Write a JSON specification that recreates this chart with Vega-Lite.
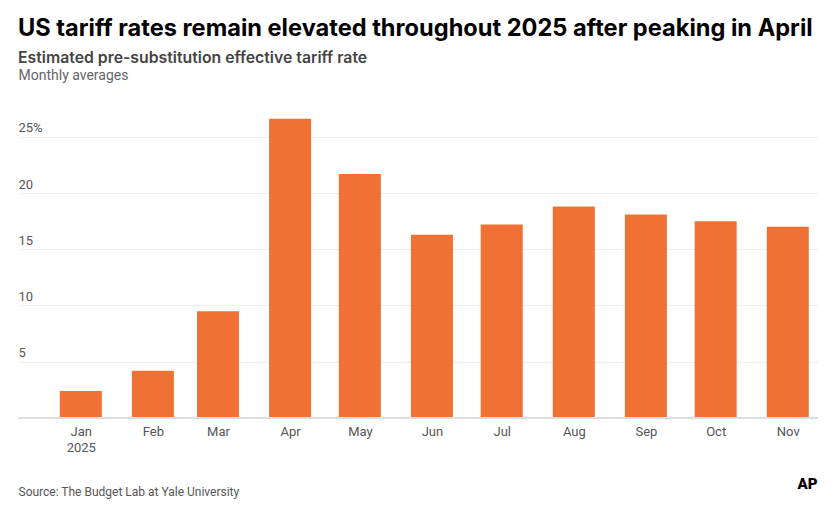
{
  "$schema": "https://vega.github.io/schema/vega-lite/v6.json",
  "autosize": {"type": "none"},
  "width": 800,
  "height": 315,
  "padding": {"left": 18, "top": 103, "right": 20, "bottom": 91},
  "background": "white",
  "data": {
    "values": [
      {"date": "2025-01-01", "rate": 2.4},
      {"date": "2025-02-01", "rate": 4.2},
      {"date": "2025-03-01", "rate": 9.5},
      {"date": "2025-04-01", "rate": 26.6},
      {"date": "2025-05-01", "rate": 21.7},
      {"date": "2025-06-01", "rate": 16.3},
      {"date": "2025-07-01", "rate": 17.2},
      {"date": "2025-08-01", "rate": 18.8},
      {"date": "2025-09-01", "rate": 18.1},
      {"date": "2025-10-01", "rate": 17.5},
      {"date": "2025-11-01", "rate": 17.0}
    ]
  },
  "title": {
    "text": "US tariff rates remain elevated throughout 2025 after peaking in April",
    "subtitle": "Estimated pre-substitution effective tariff rate",
    "anchor": "start",
    "frame": "group",
    "offset": 2,
    "font": "Inter",
    "fontSize": 23.6,
    "fontWeight": "bold",
    "color": "#000000",
    "subtitleFont": "Inter",
    "subtitleFontSize": 15.8,
    "subtitleFontWeight": 600,
    "subtitleColor": "#444444",
    "subtitlePadding": 11
  },
  "layer": [
    {
      "mark": {"type": "bar", "color": "#f07133", "width": 42},
      "encoding": {
        "x": {
          "field": "date",
          "type": "temporal",
          "scale": {"type": "utc", "domain": ["2024-12-05", "2025-11-14"], "padding": 0, "nice": false},
          "axis": {
            "values": ["2025-01-01", "2025-02-01", "2025-03-01", "2025-04-01", "2025-05-01", "2025-06-01", "2025-07-01", "2025-08-01", "2025-09-01", "2025-10-01", "2025-11-01"],
            "labelExpr": "utcmonth(datum.value) == 0 ? ['Jan', '2025'] : utcFormat(datum.value, '%b')",
            "domain": false,
            "ticks": false,
            "grid": false,
            "labelPadding": 7,
            "labelFont": "Roboto",
            "labelFontSize": 13,
            "labelColor": "#555555",
            "labelLineHeight": 16,
            "title": "Source: The Budget Lab at Yale University",
            "titleX": 0,
            "titleY": 77,
            "titleAlign": "left",
            "titleAnchor": "start",
            "titleBaseline": "alphabetic",
            "titleFont": "Roboto",
            "titleFontSize": 12,
            "titleFontWeight": "normal",
            "titleColor": "#555555"
          }
        },
        "y": {
          "field": "rate",
          "type": "quantitative",
          "scale": {"domain": [0, 28]},
          "axis": {
            "values": [0, 5, 10, 15, 20, 25],
            "labelExpr": "datum.value == 0 ? '' : datum.value == 25 ? '25%' : datum.value",
            "domain": false,
            "ticks": false,
            "gridColor": "#eeeeee",
            "gridWidth": 1,
            "labelAlign": "left",
            "labelBaseline": "alphabetic",
            "labelPadding": 0,
            "labelOffset": -5,
            "labelFont": "Roboto",
            "labelFontSize": 13,
            "labelColor": "#555555",
            "title": "Monthly averages",
            "titleAngle": 0,
            "titleX": 0,
            "titleY": -24,
            "titleAlign": "left",
            "titleBaseline": "alphabetic",
            "titleFont": "Roboto",
            "titleFontSize": 14,
            "titleFontWeight": "normal",
            "titleColor": "#666666"
          }
        }
      }
    },
    {
      "mark": {"type": "rule", "color": "#dddddd", "strokeWidth": 1.5},
      "encoding": {
        "y": {
          "datum": 0,
          "type": "quantitative",
          "scale": {"domain": [0, 28]},
          "axis": {
            "orient": "right",
            "labels": false,
            "ticks": false,
            "domain": false,
            "grid": false,
            "title": "AP",
            "titleAngle": 0,
            "titleX": -1,
            "titleY": 385,
            "titleAlign": "right",
            "titleBaseline": "alphabetic",
            "titleFont": "Roboto",
            "titleFontSize": 15,
            "titleFontWeight": 900,
            "titleColor": "#000000"
          }
        }
      }
    }
  ],
  "resolve": {"scale": {"y": "independent"}},
  "config": {"view": {"stroke": null}}
}
